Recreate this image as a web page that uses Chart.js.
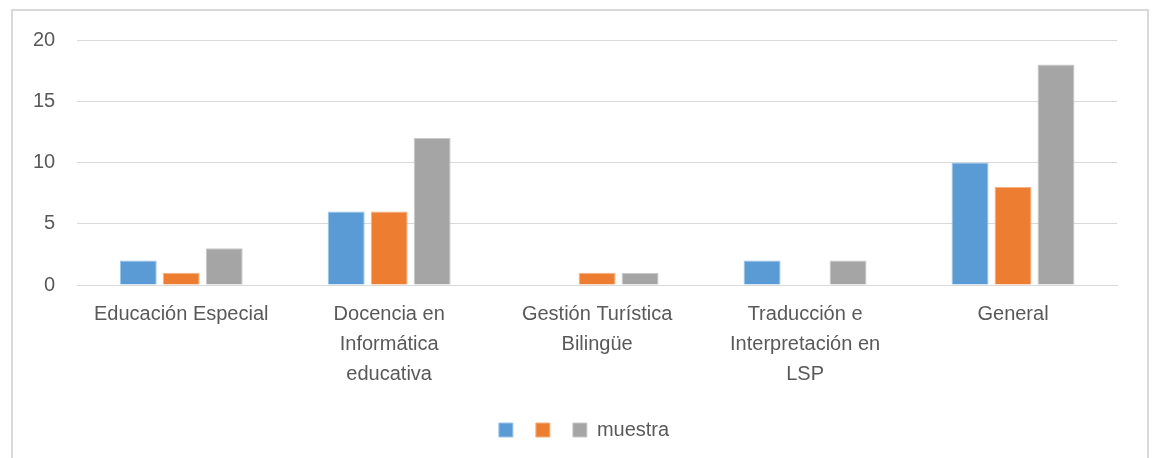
<!DOCTYPE html>
<html>
<head>
<meta charset="utf-8">
<script src="https://cdn.jsdelivr.net/npm/chart.js@4/dist/chart.umd.min.js"></script>
<style>
  html, body { margin: 0; padding: 0; background: #fff; }
  #wrap { position: relative; width: 1152px; height: 458px; }
  #marco { position: absolute; left: 11px; top: 9px; width: 1134px; height: 460px;
           border: 2px solid #d9d9d9; pointer-events: none; }
</style>
</head>
<body>
<div id="wrap">
  <canvas id="MiGrafico" width="1152" height="458"></canvas>
  <div id="marco"></div>
</div>
<script>
let categorias = [
  "Educación Especial",
  ["Docencia en", "Informática", "educativa"],
  ["Gestión Turística", "Bilingüe"],
  ["Traducción e", "Interpretación en", "LSP"],
  "General",
];
let serie1 = [2, 6, 0, 2, 10];
let serie2 = [1, 6, 1, 0, 8];
let muestra = [3, 12, 1, 2, 18];
let ticksY = [0, 5, 10, 15, 20];

let fuente = "'Liberation Sans', Arial, sans-serif";
let gris = "#595959";

// la leyenda del original queda un poco a la derecha del centro
let moverLeyenda = {
  id: "moverLeyenda",
  afterLayout(chart) {
    chart.legend.left += 20;
    chart.legend.right += 20;
  },
};

let ctx = document.getElementById("MiGrafico").getContext("2d");
let MiGrafico = new Chart(ctx, {
  type: "bar",
  data: {
    labels: categorias,
    datasets: [
      {
        label: "",
        data: serie1,
        backgroundColor: "#5B9BD5",
        borderColor: "#9cc3e6",
        borderWidth: 1,
      },
      {
        label: "",
        data: serie2,
        backgroundColor: "#ED7D31",
        borderColor: "#f4b183",
        borderWidth: 1,
      },
      {
        label: "muestra",
        data: muestra,
        backgroundColor: "#A5A5A5",
        borderColor: "#c9c9c9",
        borderWidth: 1,
      },
    ],
  },
  plugins: [moverLeyenda],
  options: {
    responsive: false,
    animation: false,
    categoryPercentage: 0.62,
    barPercentage: 0.86,
    layout: { padding: { left: 11, right: 35, top: 40, bottom: 8 } },
    plugins: {
      tooltip: { enabled: false },
      legend: {
        position: "bottom",
        labels: {
          boxWidth: 14,
          boxHeight: 14,
          padding: 13,
          color: gris,
          font: { family: fuente, size: 20 },
        },
      },
    },
    scales: {
      x: {
        grid: { display: false },
        border: { color: "#d9d9d9" },
        afterFit: (axis) => {
          axis.height += 12;
        },
        ticks: {
          color: gris,
          padding: 6,
          maxRotation: 0,
          autoSkip: false,
          font: { family: fuente, size: 20, lineHeight: 1.5 },
        },
      },
      y: {
        min: 0,
        max: 20,
        afterBuildTicks: (axis) => {
          axis.ticks = ticksY.map((v) => ({ value: v }));
        },
        border: { display: false },
        grid: { color: "#d9d9d9", drawTicks: false },
        ticks: {
          color: gris,
          padding: 22,
          font: { family: fuente, size: 20 },
        },
      },
    },
  },
});
</script>
</body>
</html>
